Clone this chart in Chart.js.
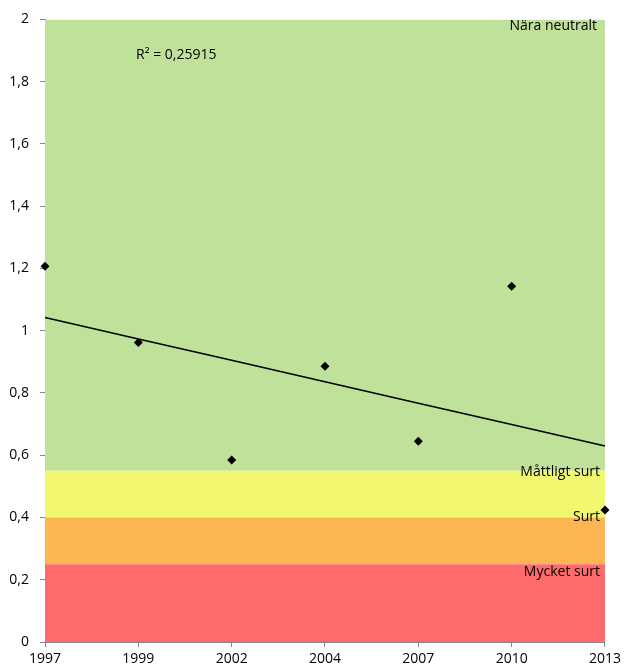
<!DOCTYPE html>
<html>
<head>
<meta charset="utf-8">
<script src="https://cdn.jsdelivr.net/npm/chart.js@4"></script>
<style>
html,body{margin:0;padding:0;background:#fff;}
#wrap{width:625px;height:671px;}
</style>
</head>
<body>
<div id="wrap"><canvas id="c" width="625" height="671"></canvas></div>
<script>
// ---- data ----
const years = ['1997', '1999', '2002', '2004', '2007', '2010', '2013'];
const values = [1.207, 0.962, 0.585, 0.886, 0.645, 1.143, 0.424];
const bandTops = [0.25, 0.4, 0.55, 2];
const bandNames = ['Mycket surt', 'Surt', 'Måttligt surt', 'Nära neutralt'];
const bandColors = ['#FF6B6B', '#FCB553', '#F1F76E', '#C0E19A'];
const r2Text = 'R² = 0,25915';

// linear trend (least squares over category index)
const n = values.length;
const xs = values.map((_, i) => i);
const mx = xs.reduce((a, b) => a + b, 0) / n;
const my = values.reduce((a, b) => a + b, 0) / n;
let sxy = 0, sxx = 0;
xs.forEach((x, i) => { sxy += (x - mx) * (values[i] - my); sxx += (x - mx) * (x - mx); });
const slope = sxy / sxx;
const intercept = my - slope * mx;
const trend = xs.map(x => intercept + slope * x);

const FONT = 'Open Sans';
Chart.defaults.font.family = FONT;
Chart.defaults.font.size = 14;
Chart.defaults.color = '#000';

const bandDatasets = bandTops.map((top, i) => ({
  type: 'line',
  data: years.map(() => top),
  backgroundColor: bandColors[i],
  borderWidth: 0,
  borderColor: 'rgba(0,0,0,0)',
  pointRadius: 0,
  fill: i === 0 ? 'origin' : '-1',
  order: 10
}));

const labelPlugin = {
  id: 'bandLabels',
  afterDatasetsDraw(chart) {
    const { ctx, chartArea, scales } = chart;
    const y = scales.y;
    ctx.save();
    ctx.font = '14px "' + FONT + '"';
    ctx.fillStyle = '#000';
    ctx.textBaseline = 'middle';
    ctx.textAlign = 'right';
    const right = chartArea.right - 5;
    ctx.fillText(bandNames[3], right - 3, y.getPixelForValue(bandTops[3]) + 7);
    ctx.fillText(bandNames[2], right, y.getPixelForValue(bandTops[2]) + 1);
    ctx.fillText(bandNames[1], right, y.getPixelForValue(bandTops[1]) - 0);
    ctx.fillText(bandNames[0], right, y.getPixelForValue(bandTops[0]) + 8);
    ctx.textAlign = 'left';
    ctx.fillText(r2Text, chartArea.left + 91, y.getPixelForValue(bandTops[3]) + 36);
    ctx.restore();
  }
};

new Chart(document.getElementById('c'), {
  type: 'line',
  data: {
    labels: years,
    datasets: [
      ...bandDatasets,
      {
        type: 'line',
        data: trend,
        borderColor: '#000',
        borderWidth: 1.5,
        pointRadius: 0,
        fill: false,
        order: 1
      },
      {
        type: 'line',
        data: values,
        showLine: false,
        pointStyle: 'rectRot',
        pointRadius: 4.5,
        pointBackgroundColor: '#000',
        pointBorderColor: '#000',
        pointBorderWidth: 0,
        fill: false,
        order: 0
      }
    ]
  },
  options: {
    responsive: false,
    animation: false,
    layout: { padding: { top: 19, right: 19, left: 0, bottom: 0 } },
    plugins: { legend: { display: false }, tooltip: { enabled: false } },
    scales: {
      x: {
        type: 'category',
        offset: false,
        grid: { drawOnChartArea: false, tickLength: 5, color: '#868686' },
        border: { color: '#868686', width: 1 },
        ticks: { padding: 4, maxRotation: 0, autoSkip: false, font: { size: 14 } },
        afterFit(s) { s.height = 29; }
      },
      y: {
        min: 0,
        max: 2,
        grid: { drawOnChartArea: false, tickLength: 5, color: '#868686' },
        border: { color: '#868686', width: 1 },
        ticks: {
          stepSize: 0.2,
          padding: 11,
          font: { size: 14 },
          callback: v => String(Number(v.toFixed(1))).replace('.', ',')
        },
        afterFit(s) { s.width = 45; }
      }
    }
  },
  plugins: [labelPlugin]
});
</script>
</body>
</html>
